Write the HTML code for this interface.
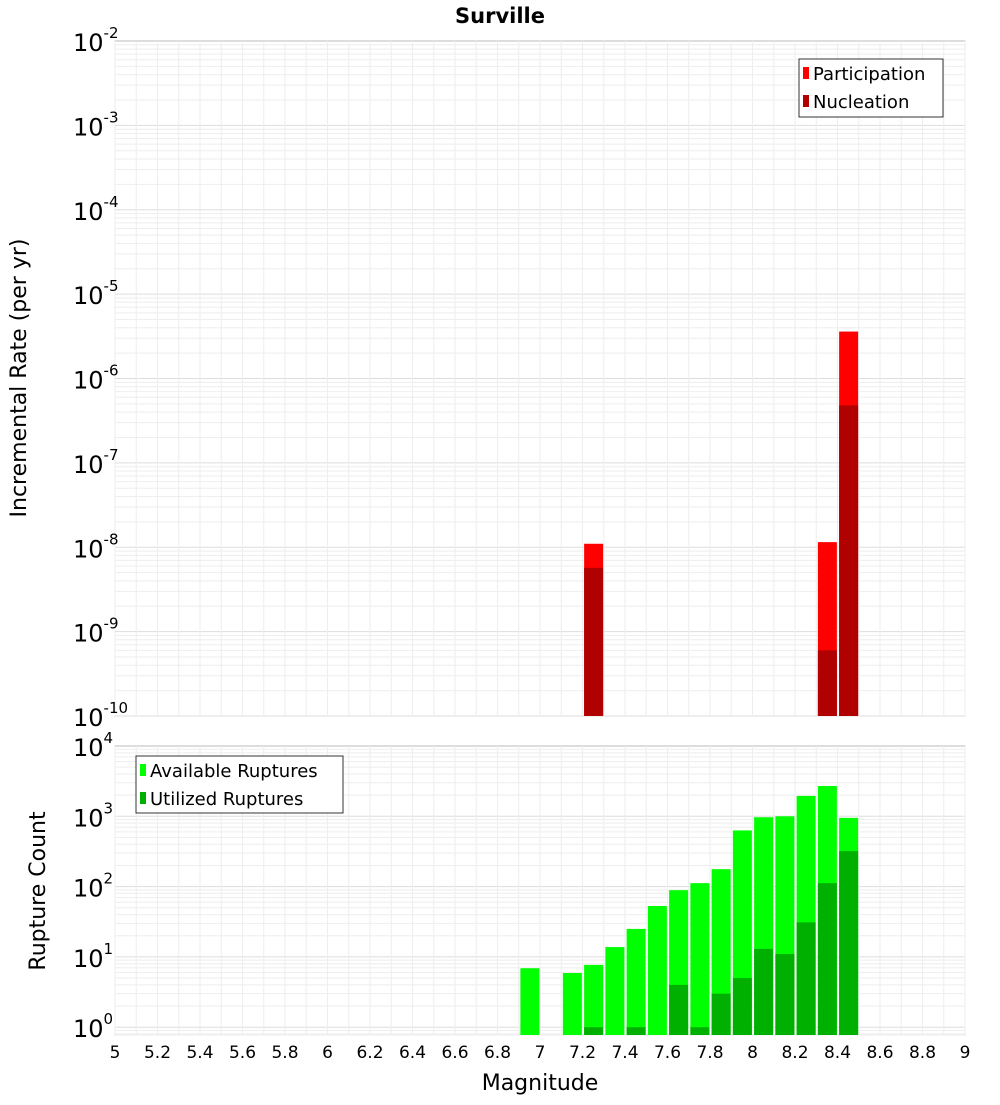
<!DOCTYPE html>
<html><head><meta charset="utf-8"><style>
body{margin:0;background:#fff;}
svg text{font-family:"DejaVu Sans","Liberation Sans",sans-serif;}
</style></head><body>
<svg id="c" width="1000" height="1100" xmlns="http://www.w3.org/2000/svg">
<text x="500" y="23" text-anchor="middle" font-size="21" font-weight="bold">Surville</text>
<g id="topPanel"></g>
<g id="botPanel"></g>
<text x="0" y="0" transform="translate(26,378) rotate(-90)" text-anchor="middle" font-size="22">Incremental Rate (per yr)</text>
<text x="0" y="0" transform="translate(45,891) rotate(-90)" text-anchor="middle" font-size="22">Rupture Count</text>
<text x="540" y="1090" text-anchor="middle" font-size="22">Magnitude</text>
<g>
<rect x="799" y="59" width="144" height="58" fill="#fff" stroke="#333"/>
<rect x="803" y="67" width="6" height="12" fill="#ff0000"/>
<text x="813" y="80" font-size="18">Participation</text>
<rect x="803" y="95" width="6" height="12" fill="#b00000"/>
<text x="813" y="108" font-size="18">Nucleation</text>
</g>
<g>
<rect x="136" y="756" width="207" height="57" fill="#fff" stroke="#333"/>
<rect x="140" y="764" width="6" height="12" fill="#00ff00"/>
<text x="150" y="777" font-size="18">Available Ruptures</text>
<rect x="140" y="792" width="6" height="12" fill="#00b000"/>
<text x="150" y="805" font-size="18">Utilized Ruptures</text>
</g>
</svg>
<script>
const mags=[7.25,8.35,8.45];
const participation=[1.1e-8,1.15e-8,3.6e-6];
const nucleation=[5.7e-9,6e-10,4.8e-7];
const countMags=[6.95,7.15,7.25,7.35,7.45,7.55,7.65,7.75,7.85,7.95,8.05,8.15,8.25,8.35,8.45];
const available=[6.9,5.9,7.7,13.8,25,53,89,112,177,630,970,1000,1950,2700,950];
const utilized=[0,0,1,0,1,0,4,1,3,5,13,11,31,112,320];
const xTicks=[5,5.2,5.4,5.6,5.8,6,6.2,6.4,6.6,6.8,7,7.2,7.4,7.6,7.8,8,8.2,8.4,8.6,8.8,9];
const topExps=[-2,-3,-4,-5,-6,-7,-8,-9,-10];
const botExps=[4,3,2,1,0];
const NS='http://www.w3.org/2000/svg';
const X0=115,X1=965;
const xs=m=>X0+(m-5)/4*(X1-X0);
const T0=41,T1=716;const yt=v=>T0+(-2-Math.log10(v))*(T1-T0)/8;
const B0=746,BD=70.3,BB=1035;const yb=v=>Math.min(BB,B0+(4-Math.log10(v))*BD);
function mk(p,tag,a){const e=document.createElementNS(NS,tag);for(const k in a)e.setAttribute(k,a[k]);p.appendChild(e);return e;}
const topG=document.getElementById('topPanel'),botG=document.getElementById('botPanel');
function grid(g,y0,y1,yf,lo,hi){
 mk(g,'rect',{x:X0,y:y0,width:X1-X0,height:y1-y0,fill:'#fff',stroke:'#bbb'});
 for(let e=lo;e<hi;e++)for(let k=1;k<10;k++){const y=yf(k*Math.pow(10,e));if(y>=y0&&y<=y1)mk(g,'line',{x1:X0,x2:X1,y1:y,y2:y,stroke:k==1?'#ddd':'#eee','stroke-width':1});}
 for(let m=5;m<=9.001;m+=0.1){const x=xs(m);mk(g,'line',{x1:x,x2:x,y1:y0,y2:y1,stroke:'#eee'});}
}
grid(topG,T0,T1,yt,-10,-2);
grid(botG,B0,BB,yb,-1,4);
mags.forEach((m,i)=>{
 let r=mk(topG,'rect',{x:xs(m)-9,y:yt(participation[i]),width:19,height:T1-yt(participation[i]),fill:'#ff0000'});
 
 let n=mk(topG,'rect',{x:xs(m)-9,y:yt(nucleation[i]),width:19,height:T1-yt(nucleation[i]),fill:'#b00000'});
 
});
countMags.forEach((m,i)=>{
 let r=mk(botG,'rect',{x:xs(m)-9,y:yb(available[i]),width:19,height:BB-yb(available[i]),fill:'#00ff00'});
 
 if(utilized[i]>0){let u=mk(botG,'rect',{x:xs(m)-9,y:yb(utilized[i]),width:19,height:BB-yb(utilized[i]),fill:'#00b000'});
 }
});
function ylab(g,y,e){const t=mk(g,'text',{x:73,y:y+10,'font-size':24});t.textContent='10';
 
 const s=mk(t,'tspan',{dy:-13,'font-size':15});s.textContent=String(e);}
topExps.forEach(e=>ylab(topG,yt(Math.pow(10,e)),e));
botExps.forEach(e=>ylab(botG,B0+(4-e)*BD,e));
xTicks.forEach(m=>{const t=mk(botG,'text',{x:xs(m),y:1058,'font-size':17,'text-anchor':'middle'});
 t.textContent=String(m);});
</script>
</body></html>
